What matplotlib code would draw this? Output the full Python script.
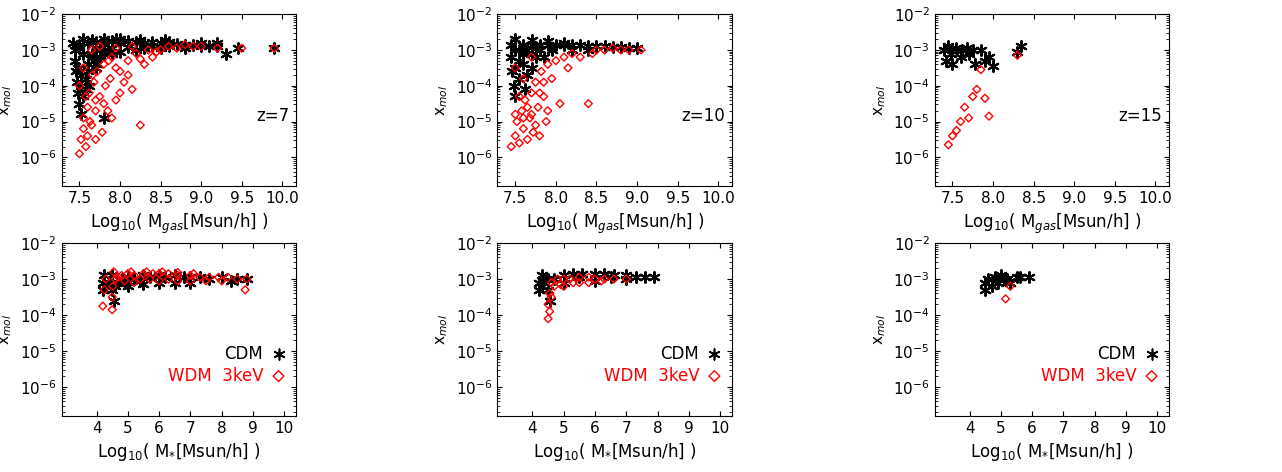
import matplotlib.pyplot as plt
import numpy as np

# (log10 M, log10 x_mol)
cdm_gas_z7 = [(7.42,-2.8),(7.45,-3.0),(7.45,-3.3),(7.46,-3.6),(7.47,-3.9),(7.48,-4.2),(7.5,-4.5),(7.52,-4.8),
    (7.55,-4.3),(7.58,-3.8),(7.6,-3.4),(7.62,-4.0),(7.65,-3.1),(7.7,-3.5),(7.75,-3.2),(7.8,-4.9),(7.85,-3.0),
    (7.5,-2.85),(7.6,-2.8),(7.7,-2.78),(7.8,-2.82),(7.9,-2.76),(8.0,-2.8),(8.1,-2.75),(8.2,-2.78),(8.3,-2.8),
    (8.4,-2.77),(8.5,-2.8),(8.6,-2.78),(8.7,-2.82),(8.8,-2.85),(8.9,-2.85),(9.0,-2.9),(9.1,-2.88),(9.2,-2.9),
    (9.3,-3.1),(9.45,-2.95),(9.9,-2.95),(7.5,-2.95),(7.7,-2.95),(7.9,-2.95),(8.1,-2.92),(8.3,-2.95),(8.5,-2.95),
    (7.55,-3.1),(7.65,-3.2),(7.75,-3.0),(7.55,-2.7),(7.8,-2.7),(8.0,-2.7),(7.48,-3.5),(7.52,-3.7),(7.58,-4.1),
    (7.52,-4.0),(7.6,-3.6),(7.68,-3.3),(7.72,-3.4),(7.8,-3.1),(7.9,-3.1),(8.0,-3.05),(8.2,-3.0),(8.4,-2.9),
    (8.6,-2.9),(8.8,-2.95),(9.0,-2.8),(9.2,-2.8),(7.65,-2.72),(7.95,-2.7),(8.25,-2.72),(8.55,-2.72)]
wdm_gas_z7 = [(7.5,-5.9),(7.52,-5.5),(7.55,-5.2),(7.55,-4.9),(7.6,-5.4),(7.6,-4.6),(7.62,-4.2),(7.65,-5.1),
    (7.68,-3.9),(7.7,-4.7),(7.72,-3.6),(7.75,-4.3),(7.78,-5.3),(7.8,-3.4),(7.82,-4.0),(7.85,-4.7),(7.88,-3.8),
    (7.9,-3.2),(7.95,-4.4),(8.0,-3.6),(8.05,-3.9),(8.1,-3.3),(8.15,-4.1),(8.2,-3.1),(8.25,-5.1),(8.3,-3.4),
    (8.35,-3.0),(8.4,-3.2),(8.5,-3.0),(8.6,-2.9),(8.7,-2.95),(8.8,-2.85),(8.9,-2.9),(9.0,-2.9),(9.2,-2.95),
    (9.5,-2.95),(9.9,-2.95),(7.5,-4.0),(7.55,-3.5),(7.65,-3.0),(7.75,-2.9),(7.95,-2.95),(8.15,-2.9),
    (7.58,-5.7),(7.63,-5.0),(7.7,-5.5),(7.7,-4.4),(7.8,-4.5),(7.9,-4.9),(7.95,-3.5),(8.0,-4.2),(8.1,-3.7),
    (7.58,-4.3),(7.66,-3.7),(7.86,-3.3),(8.25,-3.25),(8.45,-3.05)]
cdm_gas_z10 = [(7.45,-2.85),(7.45,-3.2),(7.46,-3.6),(7.48,-4.0),(7.5,-4.3),(7.5,-3.0),(7.55,-3.8),(7.6,-3.4),
    (7.62,-4.1),(7.65,-3.0),(7.7,-3.5),(7.75,-3.2),(7.8,-3.0),(7.6,-2.85),(7.7,-2.85),(7.8,-2.85),(7.9,-2.85),
    (8.0,-2.85),(8.1,-2.85),(8.2,-2.87),(8.3,-2.87),(8.4,-2.9),(8.5,-2.9),(8.6,-2.9),(8.7,-2.92),(8.8,-2.92),
    (8.9,-2.95),(9.0,-2.95),(7.5,-2.7),(7.7,-2.72),(7.9,-2.75),(8.1,-2.8),(7.55,-3.0),(7.75,-2.95),(7.95,-3.0),
    (8.2,-3.0),(8.4,-3.0),(7.5,-3.5),(7.55,-3.3),(7.65,-3.7),(7.7,-3.1),(7.85,-3.2),(7.6,-3.1)]
wdm_gas_z10 = [(7.45,-5.7),(7.5,-5.4),(7.52,-5.0),(7.55,-5.6),(7.58,-4.7),(7.6,-5.2),(7.62,-4.4),(7.65,-5.5),
    (7.68,-4.9),(7.7,-4.2),(7.72,-5.3),(7.75,-3.9),(7.78,-4.6),(7.8,-5.4),(7.82,-3.6),(7.85,-4.3),(7.88,-5.0),
    (7.9,-3.4),(7.95,-3.8),(8.0,-3.3),(8.05,-4.5),(8.1,-3.2),(8.15,-3.5),(8.2,-3.1),(8.3,-3.2),(8.4,-4.5),
    (8.45,-3.1),(8.5,-3.0),(8.6,-3.0),(8.7,-2.95),(8.8,-3.0),(8.9,-3.0),(9.05,-3.0),(7.5,-3.5),(7.6,-3.8),(7.7,-3.2),
    (7.5,-4.8),(7.55,-4.3),(7.6,-4.9),(7.65,-4.6),(7.7,-4.8),(7.75,-5.1),(7.8,-4.2),(7.85,-3.9),(7.9,-4.7)]
cdm_gas_z15 = [(7.4,-3.0),(7.42,-3.3),(7.45,-2.9),(7.48,-3.1),(7.5,-3.4),(7.55,-2.95),(7.6,-3.2),(7.62,-3.0),
    (7.68,-2.95),(7.7,-3.1),(7.75,-3.0),(7.78,-3.4),(7.85,-3.0),(7.9,-3.3),(7.95,-3.2),(8.0,-3.45),(8.3,-3.05),(8.35,-2.9)]
wdm_gas_z15 = [(7.45,-5.65),(7.5,-5.4),(7.55,-5.25),(7.6,-5.0),(7.65,-4.6),(7.7,-4.9),(7.75,-4.3),(7.8,-4.1),
    (7.85,-3.55),(7.9,-4.35),(7.95,-4.85),(8.3,-3.15)]
cdm_star_z7 = [(4.2,-3.1),(4.2,-3.3),(4.25,-2.9),(4.4,-3.1),(4.5,-2.9),(4.5,-3.3),(4.55,-3.6),(4.6,-3.2),(4.8,-3.0),
    (5.0,-2.95),(5.2,-3.0),(5.4,-3.05),(5.5,-2.9),(5.7,-2.95),(6.0,-2.9),(6.2,-2.95),(6.5,-2.9),(6.8,-2.95),
    (7.0,-2.95),(7.3,-2.95),(7.6,-3.0),(8.0,-2.95),(8.3,-3.05),(8.5,-3.0),(8.8,-3.0),(5.0,-3.2),(5.5,-3.15),(6.0,-3.1),
    (4.3,-3.2),(4.7,-3.1),(4.9,-3.1),(6.5,-3.1),(7.0,-3.1)]
wdm_star_z7 = [(4.2,-3.75),(4.25,-3.3),(4.3,-3.0),(4.5,-3.85),(4.5,-3.5),(4.52,-3.2),(4.55,-2.8),(4.6,-3.0),(4.8,-2.9),
    (5.0,-2.85),(5.2,-2.9),(5.5,-2.85),(5.8,-2.85),(6.0,-2.85),(6.3,-2.85),(6.6,-2.9),(7.0,-2.9),(7.3,-2.95),
    (7.6,-2.95),(7.9,-2.95),(8.2,-2.95),(8.5,-3.0),(8.8,-3.0),(8.75,-3.3),(5.2,-3.1),(6.0,-3.05),(7.0,-3.05),
    (4.7,-2.95),(4.9,-3.05),(5.4,-3.0),(5.7,-3.0),(6.3,-3.0),(6.6,-3.05),(7.5,-3.05),(8.0,-3.05),
    (5.1,-2.8),(5.6,-2.8),(6.1,-2.8),(6.6,-2.82),(7.1,-2.85)]
cdm_star_z10 = [(4.2,-3.1),(4.2,-3.3),(4.3,-2.9),(4.5,-3.0),(4.5,-3.3),(4.55,-3.6),(4.7,-3.0),(5.0,-2.9),(5.3,-2.85),
    (5.6,-2.85),(6.0,-2.85),(6.3,-2.85),(6.6,-2.9),(7.0,-2.9),(7.3,-2.95),(7.6,-2.95),(7.9,-2.95),(5.0,-3.1),(6.0,-3.05),
    (4.3,-3.2),(4.4,-3.0),(5.5,-2.95),(6.5,-2.95),(7.0,-3.0)]
wdm_star_z10 = [(4.5,-4.1),(4.5,-3.7),(4.55,-3.4),(4.6,-3.1),(4.8,-3.0),(5.0,-3.0),(5.2,-3.0),(5.5,-2.95),(5.8,-2.95),
    (6.0,-3.0),(6.3,-3.0),(6.6,-3.0),(7.0,-3.0),(5.0,-3.2),(5.5,-3.1),(4.55,-3.9),(4.6,-3.5),(4.7,-3.2),(4.9,-3.15),
    (5.3,-3.1),(5.8,-3.1),(6.2,-3.05)]
cdm_star_z15 = [(4.5,-3.1),(4.5,-3.3),(4.6,-3.0),(4.7,-3.2),(4.8,-2.95),(4.9,-3.1),(5.0,-2.9),(5.1,-3.0),(5.2,-3.0),
    (5.3,-3.1),(5.5,-2.95),(5.6,-2.95),(5.9,-2.95)]
wdm_star_z15 = [(5.15,-3.55),(5.3,-3.2)]

gas_panels = [(cdm_gas_z7, wdm_gas_z7, 'z=7'), (cdm_gas_z10, wdm_gas_z10, 'z=10'), (cdm_gas_z15, wdm_gas_z15, 'z=15')]
star_panels = [(cdm_star_z7, wdm_star_z7), (cdm_star_z10, wdm_star_z10), (cdm_star_z15, wdm_star_z15)]

star = (6, 2, 0)
fig = plt.figure(figsize=(12.82, 4.72), dpi=100)
lefts = [0.048, 0.388, 0.729]

def style(ax, xlim, xticks):
    ax.set_yscale('log')
    ax.set_ylim(10**-6.8, 1e-2)
    ax.set_xlim(*xlim)
    ax.set_xticks(xticks)
    ax.set_yticks([1e-6, 1e-5, 1e-4, 1e-3, 1e-2])
    ax.tick_params(which='both', direction='in', top=True, right=True, labelsize=11)
    ax.set_ylabel('x$_{mol}$', fontsize=11)

def draw(ax, c, w):
    c = np.array(c); w = np.array(w)
    ax.scatter(c[:, 0], 10**c[:, 1], marker=star, s=60, c='k', linewidths=1.5)
    ax.scatter(w[:, 0], 10**w[:, 1], marker='D', s=16, facecolors='none', edgecolors='red', linewidths=1)

for i, (c, w, z) in enumerate(gas_panels):
    ax = fig.add_axes([lefts[i], 0.606, 0.183, 0.364])
    draw(ax, c, w)
    style(ax, (7.28, 10.17), [7.5, 8.0, 8.5, 9.0, 9.5, 10.0])
    ax.set_xticklabels(['7.5', '8.0', '8.5', '9.0', '9.5', '10.0'])
    ax.set_xlabel('Log$_{10}$( M$_{gas}$[Msun/h] )', fontsize=12)
    ax.text(0.97, 0.38, z, transform=ax.transAxes, ha='right', fontsize=12)

for i, (c, w) in enumerate(star_panels):
    ax = fig.add_axes([lefts[i], 0.119, 0.183, 0.366])
    draw(ax, c, w)
    style(ax, (2.88, 10.38), [4, 5, 6, 7, 8, 9, 10])
    ax.set_xlabel('Log$_{10}$( M$_{*}$[Msun/h] )', fontsize=12)
    ax.text(0.86, 0.33, 'CDM', transform=ax.transAxes, ha='right', fontsize=12)
    ax.text(0.86, 0.2, 'WDM  3keV', transform=ax.transAxes, ha='right', fontsize=12, color='red')
    ax.scatter([0.925], [0.36], marker=star, s=60, c='k', transform=ax.transAxes, linewidths=1.2)
    ax.scatter([0.925], [0.23], marker='D', s=30, facecolors='none', edgecolors='red', transform=ax.transAxes)

fig.savefig('out.png', dpi=100)
